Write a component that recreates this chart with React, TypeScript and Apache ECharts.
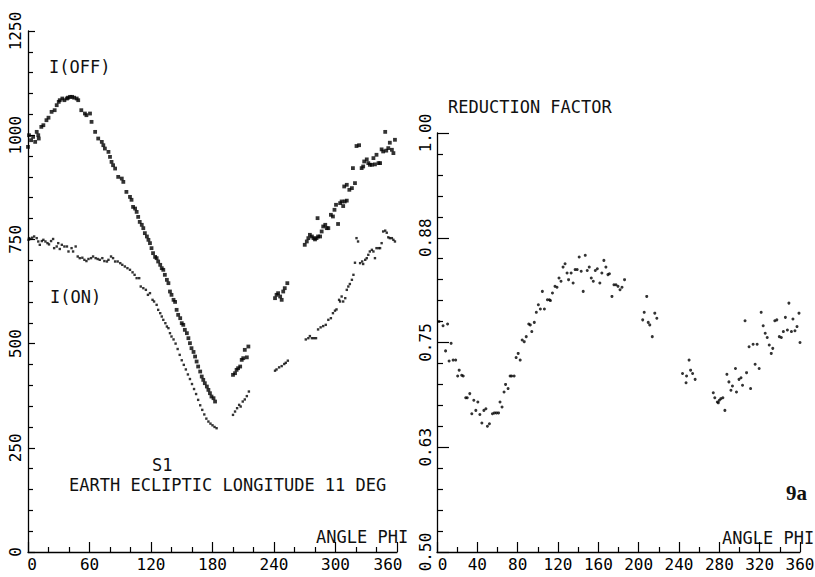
import React, { useEffect, useRef } from "react";
import * as echarts from "echarts";

// I(OFF) intensity vs angle phi  [phi, counts]
const iOffData: [number, number][] = [
  [0, 972], [1, 1000], [3, 988], [5, 996], [7, 984], [8.5, 1008], [10, 1000], [10.5, 992],
  [13, 1020], [15, 1024], [18, 1036], [20, 1042], [23, 1056], [26, 1060], [28, 1072], [30, 1080],
  [31, 1084], [33.5, 1088], [35.5, 1084], [38, 1088], [39, 1090], [41, 1092], [43, 1092], [45, 1090],
  [47.5, 1088], [49, 1084], [52, 1060], [55.5, 1052], [57, 1048], [60.5, 1052], [62, 1032], [65.5, 1008],
  [68.5, 992], [72, 984], [73.5, 976], [75, 968], [78.5, 960], [80, 948], [81.5, 936], [83, 928],
  [85, 920], [88, 900], [91.5, 896], [93, 888], [96, 864], [99.5, 852], [101, 845], [102.5, 828],
  [104.5, 824], [106, 816], [107.5, 804], [109, 792], [111, 785], [112.5, 777], [114, 765], [116, 757],
  [117.5, 749], [119, 741], [120.5, 729], [122, 717], [124, 708], [125.5, 705], [127, 697], [129, 689],
  [130.5, 681], [132, 677], [133.5, 665], [135.5, 653], [137, 645], [138.5, 625], [140, 617], [142, 605],
  [143.5, 600], [145, 581], [146.5, 569], [148.5, 561], [150, 549], [151.5, 545], [153, 533], [155, 525],
  [156.5, 513], [158, 501], [159.5, 489], [161.5, 480], [163, 469], [164.5, 457], [166, 445], [168, 433],
  [169.5, 421], [171, 413], [172.5, 405], [174.5, 397], [176, 389], [177.5, 381], [179, 373], [181, 369],
  [182.5, 361],
  [200, 425], [202, 429], [203.5, 437], [205, 441], [207, 445], [208.5, 461], [210, 465], [211.5, 485],
  [213.5, 467], [215, 493],
  [241, 609], [242.5, 617], [244, 621], [246, 613], [247.5, 605], [249, 625], [250.5, 633], [253, 645],
  [270, 737], [272, 745], [273.5, 753], [275, 761], [277, 757], [278.5, 753], [280, 750], [281.5, 753],
  [283, 757], [285, 757], [282.5, 801], [286.5, 769], [288, 781], [290, 785], [291.5, 777], [293, 777],
  [295.5, 809], [297.5, 805], [299, 821], [300.5, 833], [302.5, 787], [304.5, 837], [306, 841], [307.5, 830],
  [309, 841], [311, 843], [308.5, 877], [311, 881], [313.5, 869], [316, 873], [319, 885], [317, 921],
  [320.5, 974], [323, 976], [325.5, 921], [327, 925], [328, 937], [330.5, 942], [332, 933], [333.5, 929],
  [335.5, 929], [337, 945], [338.5, 930], [340, 953], [342, 933], [343.5, 933], [345, 966], [346.5, 961],
  [348.5, 1008], [349.5, 963], [351.5, 969], [353, 982], [355, 965], [356.5, 957], [358, 989],
];

// I(ON) intensity vs angle phi  [phi, counts]
const iOnData: [number, number][] = [
  [0.5, 749], [1, 753], [2, 751], [4, 754], [6, 757], [8.5, 753], [10, 745], [11.5, 737],
  [13.5, 746], [15, 749], [17, 745], [19, 741], [20.5, 738], [22.5, 746], [24.5, 751], [25.5, 729],
  [28, 733], [29.5, 741], [31, 727], [33, 737], [35.5, 733], [38, 733], [39.5, 721], [42.5, 729],
  [44, 721], [46.5, 733], [48.5, 709], [50.5, 705], [53, 706], [55, 701], [57, 698], [59, 703],
  [61.5, 705], [63.5, 709], [66, 705], [68, 703], [70, 701], [72.5, 705], [74.5, 698], [77, 697],
  [78.5, 701], [81, 709], [83, 705], [85, 697], [87.5, 697], [90, 693], [92, 689], [94.5, 685],
  [97, 681], [99.5, 677], [102, 671], [104, 665], [106, 657], [108.5, 657], [110, 637], [112.5, 633],
  [115, 629], [117, 617], [119, 621], [121.5, 605], [123, 601], [125.5, 593], [127, 581], [129, 573],
  [130.5, 565], [132, 557], [134, 549], [135.5, 541], [137, 537], [138.5, 525], [140, 517], [142, 510],
  [144, 500], [146, 487], [148, 473], [150, 460], [152, 449], [154, 438], [156, 426], [158, 415],
  [160, 403], [162, 391], [164, 379], [166, 365], [168, 352], [170, 341], [172, 330], [174, 320],
  [176, 313], [178, 308], [180, 304], [182, 300], [184, 297],
  [200, 329], [202, 337], [204, 345], [206, 353], [207.5, 349], [209.5, 361], [211.5, 366], [213.5, 374],
  [215.5, 385],
  [241, 435], [242.5, 438], [245, 443], [247.5, 446], [250, 451], [251.5, 454], [253.5, 459],
  [271, 510], [273.5, 513], [275, 518], [277, 513], [279, 513], [281, 513], [283, 534], [285.5, 539],
  [288, 542], [290.5, 545], [293, 557], [295.5, 561], [297.5, 573], [299.5, 579], [301, 582], [303.5, 605],
  [304.5, 601], [306, 613], [307.5, 601], [309.5, 609], [311, 629], [312.5, 637], [314, 643], [316, 653],
  [317.5, 665], [319, 694], [320.5, 753], [322, 745], [324, 693], [326, 697], [327, 691], [329, 701],
  [330.5, 705], [332, 713], [333.5, 721], [335.5, 725], [337, 721], [338.5, 705], [340, 729], [342, 729],
  [343.5, 729], [345, 741], [346.5, 769], [348.5, 771], [350, 766], [351.5, 755], [353, 753], [355, 753],
  [356.5, 749], [358, 745],
];

// Reduction factor vs angle phi  [phi, factor]
const reductionData: [number, number][] = [
  [2, 0.775], [6, 0.770], [10.5, 0.772], [8.5, 0.740], [12, 0.728], [14, 0.749], [16, 0.729], [18.5, 0.729],
  [20.5, 0.710], [22, 0.717], [24.5, 0.711], [26, 0.710], [28.5, 0.684], [30, 0.684], [32.5, 0.689], [34.5, 0.665],
  [36.5, 0.681], [38.5, 0.669], [40.5, 0.679], [42.5, 0.664], [44.5, 0.654], [46.5, 0.669], [48.5, 0.671], [50, 0.650],
  [52, 0.653], [55, 0.665], [57, 0.666], [59, 0.666], [61, 0.666], [62.5, 0.679], [64.5, 0.673], [66.5, 0.691],
  [68, 0.700], [70.5, 0.695], [72.5, 0.710], [74, 0.710], [76.5, 0.710], [78.5, 0.732], [80.5, 0.737], [82.5, 0.729],
  [84.5, 0.753], [86.5, 0.751], [88.5, 0.757], [91, 0.772], [92.5, 0.771], [94, 0.763], [96.5, 0.774], [98.5, 0.786],
  [100.5, 0.795], [102.5, 0.790], [104.5, 0.811], [106.5, 0.790], [109.5, 0.801], [111.5, 0.801], [112.5, 0.800], [114.5, 0.809],
  [117, 0.817], [119, 0.816], [121, 0.827], [123, 0.823], [125, 0.840], [127, 0.844], [129, 0.833], [130.5, 0.825],
  [133, 0.833], [135, 0.821], [137, 0.837], [139, 0.837], [141, 0.852], [143, 0.835], [145, 0.811], [147, 0.854],
  [149, 0.836], [151, 0.840], [153, 0.827], [155, 0.823], [157, 0.836], [159, 0.838], [161.5, 0.821], [163.5, 0.833],
  [165.5, 0.848], [167.5, 0.840], [169.5, 0.831], [171, 0.832], [173.5, 0.805], [175.5, 0.819], [177.5, 0.819], [179.5, 0.817],
  [181.5, 0.813], [183.5, 0.816], [186, 0.825],
  [204, 0.777], [205.5, 0.786], [208, 0.805], [209.5, 0.774], [211, 0.771], [213.5, 0.757], [216, 0.785], [218, 0.779],
  [243.5, 0.713], [247, 0.702], [247.5, 0.710], [250, 0.729], [251.5, 0.717], [253.5, 0.713], [256, 0.706],
  [274, 0.690], [275.5, 0.684], [278, 0.679], [279, 0.678], [280, 0.681], [281.5, 0.683], [283.5, 0.684], [285.5, 0.669],
  [287.5, 0.712], [289.5, 0.703], [291.5, 0.693], [293, 0.698], [296, 0.719], [297, 0.691], [299.5, 0.706], [301.5, 0.708],
  [303, 0.699], [305.5, 0.776], [307, 0.714], [309.5, 0.745], [311, 0.695], [313.5, 0.748], [315.5, 0.724], [317.5, 0.748],
  [319.5, 0.719], [321.5, 0.786], [323.5, 0.770], [325.5, 0.761], [327.5, 0.756], [329.5, 0.747], [331.5, 0.737], [333, 0.743],
  [335, 0.776], [337, 0.777], [339.5, 0.757], [341.5, 0.756], [343.5, 0.763], [345.5, 0.780], [347.5, 0.765], [349, 0.797],
  [351.5, 0.763], [353, 0.778], [355, 0.764], [357, 0.769], [359, 0.785], [360, 0.750],
];

// Tick labels
const leftYLabels = ["0", "250", "500", "750", "1000", "1250"];
const rightYLabels = ["0.50", "0.63", "0.75", "0.88", "1.00"];

const INK = "#000000";
const MONO = "'DejaVu Sans Mono', 'Liberation Mono', monospace";

function xAxisCfg(gridIndex: number, interval: number, minorSplit: number, firstPad: number, lastPad: number) {
  return {
    type: "value" as const,
    gridIndex,
    min: 0,
    max: 360,
    interval,
    axisLine: { show: true, onZero: false, lineStyle: { color: INK, width: 1.3 } },
    axisTick: { show: true, inside: true, length: 10, lineStyle: { color: INK, width: 1.2 } },
    minorTick: { show: true, splitNumber: minorSplit, length: 5, lineStyle: { color: INK, width: 1.2 } },
    splitLine: { show: false },
    minorSplitLine: { show: false },
    axisLabel: {
      show: true,
      margin: 4,
      color: INK,
      fontFamily: MONO,
      fontSize: 16,
      showMinLabel: true,
      showMaxLabel: true,
      hideOverlap: false,
      formatter: (v: number) => {
        if (v === 0) return `{first|${v}}`;
        if (v === 360) return `{last|${v}}`;
        return `${v}`;
      },
      rich: {
        first: { fontFamily: MONO, fontSize: 16, color: INK, padding: [0, 0, 0, firstPad] },
        last: { fontFamily: MONO, fontSize: 16, color: INK, padding: [0, lastPad, 0, 0] },
      },
    },
  };
}

export default function App() {
  const ref = useRef<HTMLDivElement>(null);

  useEffect(() => {
    if (!ref.current) return;
    const chart = echarts.init(ref.current, undefined, { renderer: "svg" });

    const textStyle = (text: string, x: number, y: number, size = 17, extra: any = {}) => ({
      type: "text",
      x,
      y,
      silent: true,
      style: {
        text,
        fill: "#111",
        font: `${size}px ${MONO}`,
        textAlign: "left",
        textVerticalAlign: "middle",
        ...extra,
      },
    });

    chart.setOption({
      animation: false,
      backgroundColor: "#ffffff",
      grid: [
        { left: 28, top: 31, width: 369, height: 521, containLabel: false, outerBoundsMode: "none" },
        { left: 437, top: 133, width: 363, height: 419, containLabel: false, outerBoundsMode: "none" },
      ],
      xAxis: [xAxisCfg(0, 60, 3, 8, 18), xAxisCfg(1, 40, 2, 11, 0)],
      yAxis: [
        {
          type: "value",
          gridIndex: 0,
          min: 0,
          max: 1250,
          interval: 250,
          axisLine: { show: true, onZero: false, lineStyle: { color: INK, width: 1.3 } },
          axisTick: { show: true, inside: true, length: 7, lineStyle: { color: INK, width: 1.2 } },
          minorTick: { show: true, splitNumber: 5, length: 5, lineStyle: { color: INK, width: 1.2 } },
          splitLine: { show: false },
          axisLabel: {
            rotate: 90,
            margin: 5,
            color: INK,
            fontFamily: MONO,
            fontSize: 16,
            showMinLabel: true,
            showMaxLabel: true,
            hideOverlap: false,
            formatter: (v: number) => leftYLabels[Math.round(v / 250)] ?? "",
          },
        },
        {
          type: "value",
          gridIndex: 1,
          min: 0.5,
          max: 1.0,
          interval: 0.125,
          axisLine: { show: true, onZero: false, lineStyle: { color: INK, width: 1.3 } },
          axisTick: { show: true, inside: true, length: 12, lineStyle: { color: INK, width: 1.2 } },
          minorTick: { show: true, splitNumber: 5, length: 6, lineStyle: { color: INK, width: 1.2 } },
          splitLine: { show: false },
          axisLabel: {
            rotate: 90,
            margin: 4,
            color: INK,
            fontFamily: MONO,
            fontSize: 16,
            showMinLabel: true,
            showMaxLabel: true,
            hideOverlap: false,
            formatter: (v: number) => rightYLabels[Math.round((v - 0.5) / 0.125)] ?? "",
          },
        },
      ],
      series: [
        {
          name: "I(OFF)",
          type: "scatter",
          xAxisIndex: 0,
          yAxisIndex: 0,
          data: iOffData,
          symbol: "rect",
          symbolSize: 3.8,
          itemStyle: { color: INK },
        },
        {
          name: "I(ON)",
          type: "scatter",
          xAxisIndex: 0,
          yAxisIndex: 0,
          data: iOnData,
          symbol: "rect",
          symbolSize: 2.4,
          itemStyle: { color: INK },
        },
        {
          name: "REDUCTION FACTOR",
          type: "scatter",
          xAxisIndex: 1,
          yAxisIndex: 1,
          data: reductionData,
          symbol: "circle",
          symbolSize: 3,
          itemStyle: { color: INK },
        },
      ],
      graphic: [
        textStyle("I(OFF)", 49, 67),
        textStyle("I(ON)", 50, 297),
        textStyle("S1", 152, 465),
        textStyle("EARTH ECLIPTIC LONGITUDE 11 DEG", 69, 485),
        textStyle("ANGLE PHI", 316, 537),
        textStyle("REDUCTION FACTOR", 448, 107),
        textStyle("ANGLE PHI", 722, 538),
        textStyle("9a", 786, 493, 21, {
          font: "bold 21px 'Liberation Serif', 'DejaVu Serif', serif",
        }),
      ],
    });

    return () => chart.dispose();
  }, []);

  return (
    <div
      ref={ref}
      style={{ position: "fixed", left: 0, top: 0, width: 815, height: 577, background: "#fff" }}
    />
  );
}
